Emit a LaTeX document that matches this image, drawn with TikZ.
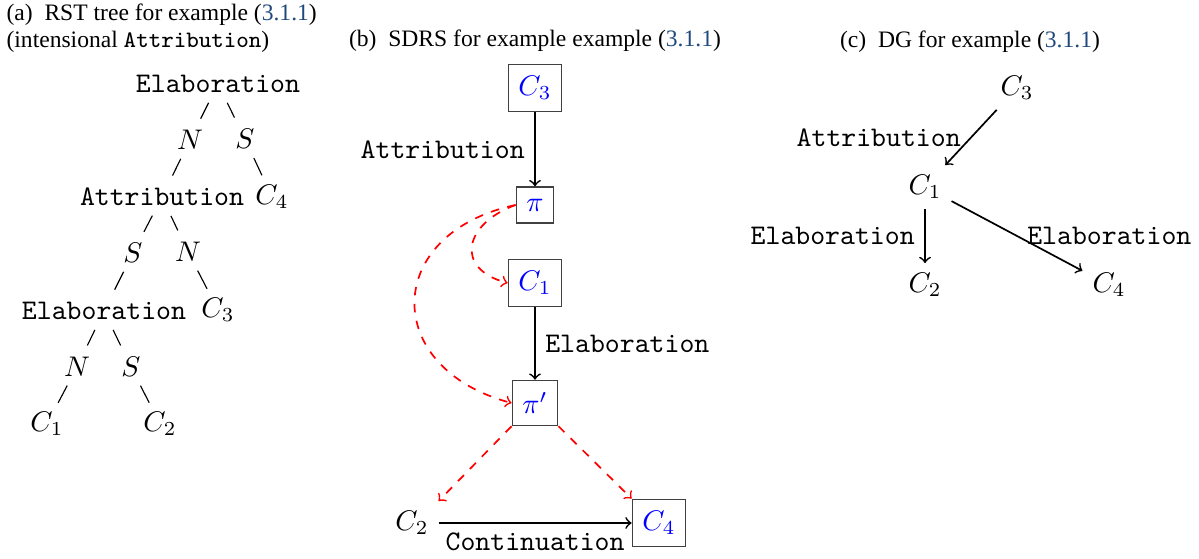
\documentclass[tikz,border=0pt]{standalone}
\usepackage{fontspec}
\setmainfont{Liberation Serif}
\definecolor{refblue}{RGB}{31,72,125}
\begin{document}
\begin{tikzpicture}[x=0.35213pt,y=0.35213pt,
  captext/.style={font=\fontsize{8.3}{10}\selectfont, inner sep=0pt},
  treelabel/.style={inner sep=0pt},
  treeedge/.style={line width=0.4pt, shorten <=7.4pt, shorten >=8.4pt},
  unit/.style={draw=black!75, line width=0.45pt, text=blue, inner xsep=3.6pt, inner ysep=4.2pt},
  rel/.style={->, line width=0.6pt},
  link/.style={->, red, dashed, line width=0.6pt},
  rellabel/.style={font=\ttfamily}
]
\useasboundingbox (0,0) rectangle (1199,559);

% ---------- (a) RST tree ----------
\node[captext, anchor=base west] (capA1) at (6,538) {(a)\hspace{0.5em}RST tree for example (\textcolor{refblue}{3.1.1})};
\node[captext, anchor=base west] (capA2) at (6,511) {(intensional \texttt{Attribution})};

\node[treelabel, font=\ttfamily] (aE1) at (218,475) {Elaboration};
\node[treelabel] (aN1) at (190,419) {$N$};
\node[treelabel] (aS1) at (245,420) {$S$};
\node[treelabel, font=\ttfamily] (aAt) at (162,362) {Attribution};
\node[treelabel] (aC4) at (272,362) {$C_4$};
\node[treelabel] (aS2) at (133,306) {$S$};
\node[treelabel] (aN2) at (188,307) {$N$};
\node[treelabel, font=\ttfamily] (aE2) at (104,248) {Elaboration};
\node[treelabel] (aC3) at (218,249) {$C_3$};
\node[treelabel] (aN3) at (77,192) {$N$};
\node[treelabel] (aS3) at (131,192) {$S$};
\node[treelabel] (aC1) at (47,135) {$C_1$};
\node[treelabel] (aC2) at (160,135) {$C_2$};

\draw[treeedge] (aE1.center) -- (aN1.center);
\draw[treeedge] (aE1.center) -- (aS1.center);
\draw[treeedge] (aN1.center) -- (aAt.center);
\draw[treeedge] (aS1.center) -- (aC4.center);
\draw[treeedge] (aAt.center) -- (aS2.center);
\draw[treeedge] (aAt.center) -- (aN2.center);
\draw[treeedge] (aS2.center) -- (aE2.center);
\draw[treeedge] (aN2.center) -- (aC3.center);
\draw[treeedge] (aE2.center) -- (aN3.center);
\draw[treeedge] (aE2.center) -- (aS3.center);
\draw[treeedge] (aN3.center) -- (aC1.center);
\draw[treeedge] (aS3.center) -- (aC2.center);

% ---------- (b) SDRS ----------
\node[captext, anchor=base] (capB) at (535,512) {(b)\hspace{0.5em}SDRS for example example (\textcolor{refblue}{3.1.1})};

\node[unit] (bC3) at (535,471) {$C_3$};
\node[unit] (bpi) at (535,354) {$\pi$};
\node[unit] (bC1) at (535,276) {$C_1$};
\node[unit] (bpip) at (535,156) {$\pi'$};
\node[unit] (bC4) at (659,36) {$C_4$};
\node (bC2) at (412,36) {$C_2$};

\draw[rel] (bC3) -- node[left, rellabel] {Attribution} (bpi);
\draw[rel] (bC1) -- node[right, rellabel] {Elaboration} (bpip);
\draw[rel] (bC2) -- node[below, rellabel] {Continuation} (bC4);

\draw[link] (bpi.west) to[out=200, in=165, looseness=1.8] (bC1.west);
\draw[link] (bpi.west) to[out=192, in=165, looseness=1.75] (bpip.west);
\draw[link] (bpip.south west) -- (bC2.north east);
\draw[link] (bpip.south east) -- (bC4.north west);

% ---------- (c) DG ----------
\node[captext, anchor=base] (capC) at (970,511) {(c)\hspace{0.5em}DG for example (\textcolor{refblue}{3.1.1})};

\node (cC3) at (1017,471) {$C_3$};
\node (cC1) at (925,372) {$C_1$};
\node (cC2) at (925,274) {$C_2$};
\node (cC4) at (1109,274) {$C_4$};

\draw[rel] (cC3) -- node[left, rellabel] {Attribution} (cC1);
\draw[rel] (cC1) -- node[left, rellabel] {Elaboration} (cC2);
\draw[rel] (cC1) -- node[right, rellabel] {Elaboration} (cC4);
\end{tikzpicture}
\end{document}
